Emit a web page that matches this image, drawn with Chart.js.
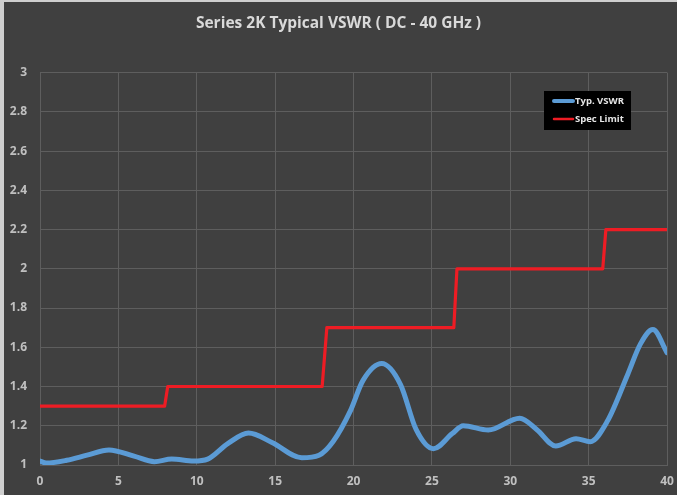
<!DOCTYPE html>
<html>
<head>
<meta charset="utf-8">
<script src="https://cdn.jsdelivr.net/npm/chart.js@4.4.1/dist/chart.umd.min.js"></script>
<style>
    html, body { margin: 0; padding: 0; background: #404040; }
    #wrap { position: relative; width: 677px; height: 495px; }
</style>
</head>
<body>
<div id="wrap"><canvas id="vswr-chart" width="677" height="495"></canvas></div>
<script>
// frequency in GHz
const vswrFreq = [0, 0.4, 1.7, 3, 4.4, 6.0, 7.3, 8.4, 9.8, 10.7, 12.0, 13.3, 14.8, 16.7, 17.8, 18.7, 19.8, 20.6, 21.8, 23.0, 24.0, 25.1, 26.3, 27.0, 28.6, 30.6, 31.7, 32.9, 34.2, 35.1, 36.2, 37.5, 38.3, 39.1, 40];
const vswrValues = [1.02, 1.01, 1.024, 1.05, 1.077, 1.045, 1.017, 1.03, 1.02, 1.03, 1.11, 1.163, 1.115, 1.037, 1.05, 1.12, 1.276, 1.43, 1.517, 1.41, 1.18, 1.083, 1.16, 1.2, 1.178, 1.238, 1.18, 1.097, 1.134, 1.119, 1.224, 1.463, 1.616, 1.69, 1.573];

const specFreq = [0, 7.95, 8.15, 18.0, 18.3, 26.4, 26.6, 35.9, 36.1, 40];
const specValues = [1.3, 1.3, 1.4, 1.4, 1.7, 1.7, 2.0, 2.0, 2.2, 2.2];

const TITLE = 'Series 2K Typical VSWR ( DC - 40 GHz )';
const LABEL_VSWR = 'Typ. VSWR';
const LABEL_SPEC = 'Spec Limit';

const GRID = '#5e5e5e';
const TICK = '#c0c0c0';

function toPoints(xs, ys) {
    return xs.map((x, i) => ({ x, y: ys[i] }));
}

// background + the light frame on the left/top edge
const frame = {
    id: 'frame',
    beforeDraw(chart) {
        const { ctx, width, height } = chart;
        ctx.save();
        ctx.fillStyle = '#404040';
        ctx.fillRect(0, 0, width, height);
        ctx.fillStyle = '#cfcfcf';
        ctx.fillRect(0, 0, 4, height);
        ctx.fillRect(0, 0, width, 2);
        ctx.restore();
    }
};

// small black legend box sitting inside the plot
const boxLegend = {
    id: 'boxLegend',
    afterDraw(chart) {
        const { ctx } = chart;
        const x = 544, y = 91, w = 87, h = 39;
        ctx.save();
        ctx.fillStyle = '#000000';
        ctx.fillRect(x, y, w, h);
        ctx.font = 'bold 9.5px "Open Sans", sans-serif';
        ctx.textBaseline = 'middle';
        chart.data.datasets.forEach((ds, i) => {
            const ly = y + 10 + i * 18;
            ctx.strokeStyle = ds.borderColor;
            ctx.lineWidth = i === 0 ? 4 : 2.5;
            ctx.lineCap = 'round';
            ctx.beginPath();
            ctx.moveTo(x + 10, ly);
            ctx.lineTo(x + 29, ly);
            ctx.stroke();
            ctx.fillStyle = '#e6e6e6';
            ctx.fillText(ds.label, x + 31, ly);
        });
        ctx.restore();
    }
};

const ctx = document.getElementById('vswr-chart').getContext('2d');

new Chart(ctx, {
    type: 'scatter',
    data: {
        datasets: [
            {
                label: LABEL_VSWR,
                data: toPoints(vswrFreq, vswrValues),
                showLine: true,
                borderColor: '#5b9bd5',
                borderWidth: 5,
                pointRadius: 0,
                cubicInterpolationMode: 'monotone',
                borderCapStyle: 'round',
                borderJoinStyle: 'round'
            },
            {
                label: LABEL_SPEC,
                data: toPoints(specFreq, specValues),
                showLine: true,
                borderColor: '#ee1c24',
                borderWidth: 3.2,
                pointRadius: 0,
                tension: 0,
                borderJoinStyle: 'round'
            }
        ]
    },
    options: {
        responsive: false,
        animation: false,
        layout: {
            padding: 0
        },
        plugins: {
            legend: { display: false },
            tooltip: { enabled: false },
            title: {
                display: true,
                text: TITLE,
                color: '#d9d9d9',
                font: { family: '"Open Sans", sans-serif', size: 15.5, weight: 'bold' },
                padding: { top: 14, bottom: 40 }
            }
        },
        scales: {
            x: {
                type: 'linear',
                min: 0,
                max: 40,
                afterFit: (scale) => {
                    scale.height = 30;
                    scale.paddingLeft = 0;
                    scale.paddingRight = 10;
                },
                ticks: {
                    stepSize: 5,
                    color: TICK,
                    padding: 9,
                    font: { family: '"Open Sans", sans-serif', size: 12, weight: 'bold' }
                },
                grid: { color: GRID, drawTicks: false },
                border: { color: GRID }
            },
            y: {
                min: 1,
                max: 3,
                afterFit: (scale) => { scale.width = 40; },
                ticks: {
                    stepSize: 0.2,
                    color: TICK,
                    padding: 13,
                    font: { family: '"Open Sans", sans-serif', size: 12, weight: 'bold' },
                    callback: (value) => String(Number(value.toFixed(1)))
                },
                grid: { color: GRID, drawTicks: false },
                border: { color: GRID }
            }
        }
    },
    plugins: [frame, boxLegend]
});
</script>
</body>
</html>
